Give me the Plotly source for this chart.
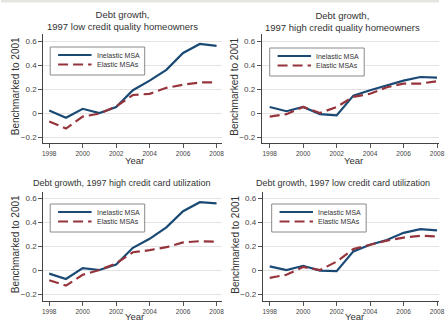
import plotly.graph_objects as go

W, H = 445, 321

years = [1998, 1999, 2000, 2001, 2002, 2003, 2004, 2005, 2006, 2007, 2008]

titles = [
    "Debt growth,<br>1997 low credit quality homeowners",
    "Debt growth,<br>1997 high credit quality homeowners",
    "Debt growth, 1997 high credit card utilization",
    "Debt growth, 1997 low credit card utilization",
]

inelastic_low_quality = [0.02, -0.04, 0.035, 0.0, 0.05, 0.19, 0.27, 0.36, 0.50, 0.575, 0.56]
elastic_low_quality = [-0.07, -0.13, -0.03, -0.005, 0.055, 0.15, 0.16, 0.21, 0.235, 0.255, 0.255]

inelastic_high_quality = [0.05, 0.015, 0.05, -0.01, -0.02, 0.145, 0.19, 0.23, 0.27, 0.30, 0.295]
elastic_high_quality = [-0.03, -0.01, 0.05, 0.0, 0.05, 0.135, 0.16, 0.215, 0.245, 0.245, 0.265]

inelastic_high_util = [-0.03, -0.075, 0.015, 0.0, 0.045, 0.185, 0.26, 0.355, 0.49, 0.565, 0.555]
elastic_high_util = [-0.085, -0.13, -0.04, 0.0, 0.055, 0.148, 0.165, 0.19, 0.23, 0.24, 0.235]

inelastic_low_util = [0.03, 0.0, 0.035, -0.005, -0.01, 0.155, 0.21, 0.25, 0.31, 0.34, 0.33]
elastic_low_util = [-0.065, -0.04, 0.025, 0.0, 0.07, 0.175, 0.21, 0.245, 0.27, 0.285, 0.28]

series_names = ["Inelastic MSA", "Elastic MSAs"]
panels = [
    (inelastic_low_quality, elastic_low_quality),
    (inelastic_high_quality, elastic_high_quality),
    (inelastic_high_util, elastic_high_util),
    (inelastic_low_util, elastic_low_util),
]

y_ticks = [-0.2, 0, 0.2, 0.4, 0.6]
y_tick_text = ["\u22120.2", "0", "0.2", "0.4", "0.6"]
x_ticks = [1998, 2000, 2002, 2004, 2006, 2008]

BLUE = "#1a4a74"
RED = "#96343c"
TXT = "#333333"


def px(x):
    return x / W


def py(y):
    return 1 - y / H


# panel geometry in pixels
geo = [
    dict(x0=43, x1=225, x98=49, yt=34, yb=143, y0=113, legx=50, legy=47, tcx=123,
         tfs=9.5, yearoff=18, tgap=0),
    dict(x0=265, x1=445, x98=273, yt=34, yb=143, y0=113, legx=273, legy=48, tcx=347,
         tfs=9.5, yearoff=18, tgap=-1),
    dict(x0=43, x1=225, x98=49, yt=192, yb=301, y0=270, legx=50, legy=204, tcx=123,
         tfs=9, yearoff=15, tgap=2),
    dict(x0=266, x1=445, x98=273, yt=192, yb=301, y0=270, legx=275, legy=204, tcx=347,
         tfs=9, yearoff=15, tgap=2),
]
PPY = 17.0   # px per year
PPU = 120.0  # px per unit

fig = go.Figure()
layout = dict(
    width=W, height=H, margin=dict(l=0, r=0, t=0, b=0),
    paper_bgcolor="white", plot_bgcolor="white", showlegend=False,
    font=dict(family="Liberation Sans, Arial, sans-serif", color=TXT),
)
annotations = []
shapes = [dict(type="rect", xref="paper", yref="paper", x0=0, x1=1, y0=py(2.5), y1=1,
               fillcolor="#e6e4e1", line=dict(width=0), layer="below")]

for i, (g, (inel, el)) in enumerate(zip(geo, panels)):
    n = "" if i == 0 else str(i + 1)
    xa, ya = "x" + n, "y" + n
    fig.add_trace(go.Scatter(x=years, y=inel, mode="lines", name=series_names[0],
                             line=dict(color=BLUE, width=2.2), xaxis=xa, yaxis=ya))
    fig.add_trace(go.Scatter(x=years, y=el, mode="lines", name=series_names[1],
                             line=dict(color=RED, width=2.2, dash="10px,5px"), xaxis=xa, yaxis=ya))
    xr = [1998 - (g["x98"] - g["x0"]) / PPY, 1998 + (g["x1"] - g["x98"]) / PPY]
    yr = [(g["y0"] - g["yb"]) / PPU, (g["y0"] - g["yt"]) / PPU]
    layout["xaxis" + n] = dict(
        domain=[px(g["x0"]), px(g["x1"])], range=xr, anchor=ya,
        tickvals=x_ticks, ticks="outside", ticklen=4, tickcolor="#555",
        tickfont=dict(size=6.5, color="#444"), showgrid=False, zeroline=False,
        showline=True, linecolor="#444", linewidth=1.2, fixedrange=True,
        ticklabeloverflow="allow",
    )
    layout["yaxis" + n] = dict(
        domain=[py(g["yb"]), py(g["yt"])], range=yr, anchor=xa,
        tickvals=y_ticks, ticktext=y_tick_text, ticks="outside", ticklen=4,
        tickcolor="#555", tickfont=dict(size=8, color="#444"),
        showgrid=True, gridcolor="#e3e3e3", gridwidth=1, zeroline=False,
        showline=True, linecolor="#444", linewidth=1.2, fixedrange=True,
    )
    # panel title
    annotations.append(dict(
        text=titles[i], xref="paper", yref="paper", x=px(g["tcx"]),
        y=py(g["yt"] - g["tgap"]), xanchor="center", yanchor="bottom", showarrow=False,
        font=dict(size=g["tfs"], color=TXT),
    ))
    # y axis title
    annotations.append(dict(
        text="Benchmarked to 2001", xref="paper", yref="paper",
        x=px(g["x0"] - 28), y=py((g["yt"] + g["yb"]) / 2 - 2), textangle=-90,
        xanchor="center", yanchor="middle", showarrow=False,
        font=dict(size=10, color=TXT),
    ))
    # x axis title
    annotations.append(dict(
        text="Year", xref="paper", yref="paper",
        x=px(g["x0"] + 93), y=py(g["yb"] + g["yearoff"]),
        xanchor="center", yanchor="middle", showarrow=False,
        font=dict(size=9.5, color=TXT),
    ))
    # legend box
    lx, ly = g["legx"], g["legy"]
    shapes.append(dict(type="rect", xref="paper", yref="paper",
                       x0=px(lx), x1=px(lx + 96), y0=py(ly + 28), y1=py(ly),
                       fillcolor="white", line=dict(color="#8a8a8a", width=1)))
    for k, (name, col, dash) in enumerate([(series_names[0], BLUE, "solid"),
                                           (series_names[1], RED, "10px,5px")]):
        yy = ly + 8 + k * 9.5
        shapes.append(dict(type="line", xref="paper", yref="paper",
                           x0=px(lx + 8), x1=px(lx + 42), y0=py(yy), y1=py(yy),
                           line=dict(color=col, width=2.2, dash=dash)))
        annotations.append(dict(text=name, xref="paper", yref="paper",
                                x=px(lx + 45), y=py(yy), xanchor="left", yanchor="middle",
                                showarrow=False, font=dict(size=7, color=TXT)))

layout["annotations"] = annotations
layout["shapes"] = shapes
fig.update_layout(**layout)
fig.write_html("out.html")
